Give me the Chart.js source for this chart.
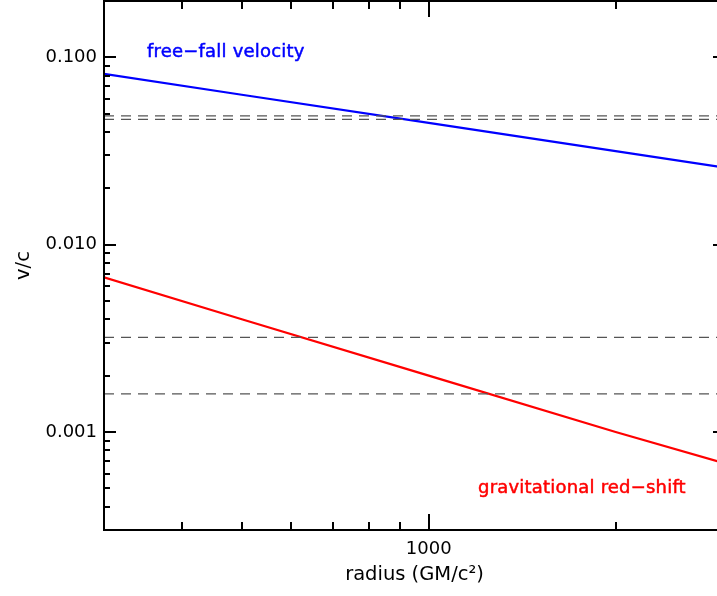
<!DOCTYPE html>
<html>
<head>
<meta charset="utf-8">
<script src="https://cdn.jsdelivr.net/npm/chart.js@4/dist/chart.umd.min.js"></script>
<style>
  html, body { margin: 0; padding: 0; background: #fff; overflow: hidden; }
  canvas { display: block; }
</style>
</head>
<body>
<canvas id="myChart" width="730" height="596"></canvas>
<script>
// data
const radius = [300, 500, 1000, 2000, 3000];
const freeFall = [0.0816, 0.0632, 0.0447, 0.0316, 0.0258];
const redShift = [0.0067, 0.0040, 0.0020, 0.0010, 0.00068];
const dashLevels = [0.0487, 0.0467, 0.0032, 0.0016];
const xRange = [300, 3000];
const yRange = [0.0003, 0.2];
const xTickLabels = [1000];
const yTickLabels = [0.1, 0.01, 0.001];

Chart.defaults.font.family = "'DejaVu Sans', sans-serif";
Chart.defaults.font.size = 18;
Chart.defaults.color = '#000';

const toPts = (ys) => radius.map((r, i) => ({x: r, y: ys[i]}));

const datasets = [];
dashLevels.forEach(lv => {
  datasets.push({
    data: [{x: xRange[0], y: lv}, {x: xRange[1], y: lv}],
    borderColor: '#555',
    borderWidth: 1.2,
    borderDash: [10, 7],
    pointRadius: 0
  });
});
datasets.push({data: toPts(freeFall), borderColor: '#0000ff', borderWidth: 2.2, pointRadius: 0});
datasets.push({data: toPts(redShift), borderColor: '#ff0000', borderWidth: 2.2, pointRadius: 0});

const isDecade = (v) => Math.abs(Math.log10(v) - Math.round(Math.log10(v))) < 1e-6;

// no extra label padding around the plot box
const noPad = (s) => { s.paddingTop = 0; s.paddingBottom = 0; s.paddingLeft = 0; s.paddingRight = 0; };

// IDL style box with inward ticks
const boxTicks = {
  id: 'boxTicks',
  afterDraw(chart) {
    const ctx = chart.ctx;
    const a = chart.chartArea;
    const xs = chart.scales.x, ys = chart.scales.y;
    ctx.save();
    ctx.strokeStyle = '#000';
    ctx.lineWidth = 2;
    ctx.strokeRect(a.left, a.top, a.right - a.left, a.bottom - a.top);
    ctx.beginPath();
    for (let e = -5; e <= 1; e++) {
      for (let m = 1; m <= 9; m++) {
        const v = m * Math.pow(10, e);
        if (v < yRange[0] * 0.999 || v > yRange[1] * 1.001) continue;
        const py = Math.round(ys.getPixelForValue(v));
        const len = m === 1 ? 12 : 6;
        ctx.moveTo(a.left, py); ctx.lineTo(a.left + len, py);
        ctx.moveTo(a.right, py); ctx.lineTo(a.right - len, py);
      }
    }
    for (let e = 2; e <= 4; e++) {
      for (let m = 1; m <= 9; m++) {
        const v = m * Math.pow(10, e);
        if (v <= xRange[0] * 1.001 || v >= xRange[1] * 0.999) continue;
        const px = Math.round(xs.getPixelForValue(v));
        const len = m === 1 ? 16 : 8;
        ctx.moveTo(px, a.bottom); ctx.lineTo(px, a.bottom - len);
        ctx.moveTo(px, a.top); ctx.lineTo(px, a.top + len);
      }
    }
    ctx.stroke();

    // curve labels, slightly heavier like the original
    ctx.font = "18px 'DejaVu Sans'";
    ctx.letterSpacing = '0.2px';
    ctx.textBaseline = 'middle';
    ctx.lineWidth = 0.5;
    ctx.fillStyle = ctx.strokeStyle = '#0000ff';
    ctx.fillText('free\u2212fall velocity', 147, 52);
    ctx.strokeText('free\u2212fall velocity', 147, 52);
    ctx.fillStyle = ctx.strokeStyle = '#ff0000';
    ctx.fillText('gravitational red\u2212shift', 478, 488);
    ctx.strokeText('gravitational red\u2212shift', 478, 488);
    ctx.restore();
  }
};

const config = {
  type: 'line',
  data: { datasets },
  options: {
    responsive: false,
    animation: false,
    layout: { padding: { top: 1, right: 5, left: 0, bottom: 0 } },
    plugins: { legend: { display: false }, tooltip: { enabled: false } },
    scales: {
      x: {
        type: 'logarithmic',
        min: xRange[0],
        max: xRange[1],
        grid: { display: false, drawTicks: false },
        border: { display: false },
        ticks: {
          autoSkip: false,
          maxRotation: 0,
          padding: 9,
          callback: (v) => xTickLabels.includes(v) ? String(v) : ''
        },
        title: { display: true, text: 'radius (GM/c\u00b2)', font: { size: 19.5 }, padding: { top: 0, bottom: 9 } },
        afterFit: (s) => { s.height = 66; noPad(s); }
      },
      y: {
        type: 'logarithmic',
        min: yRange[0],
        max: yRange[1],
        grid: { display: false, drawTicks: false },
        border: { display: false },
        ticks: {
          autoSkip: false,
          padding: 7,
          callback: (v) => (isDecade(v) && yTickLabels.some(t => Math.abs(t - v) / t < 1e-6)) ? v.toFixed(3) : ''
        },
        title: { display: true, text: 'v/c', font: { size: 19.5 }, padding: { top: 12, bottom: 0 } },
        afterFit: (s) => { s.width = 104; noPad(s); }
      }
    }
  },
  plugins: [boxTicks]
};

const myChart = new Chart(document.getElementById('myChart'), config);
</script>
</body>
</html>
